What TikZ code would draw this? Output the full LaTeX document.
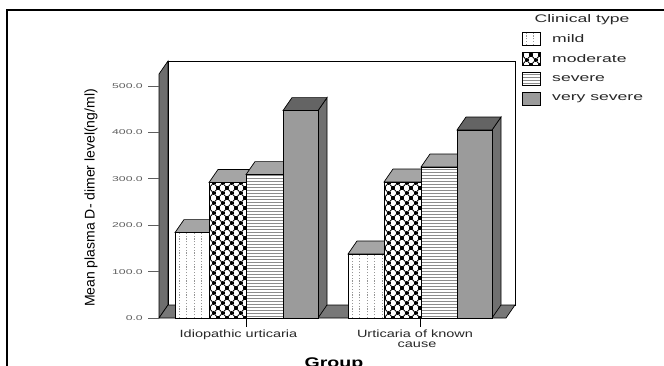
\documentclass[tikz,border=0pt]{standalone}
\usepackage{fontspec}
\setmainfont{Liberation Sans}
\definecolor{barG}{RGB}{155,155,155}
\definecolor{topL}{RGB}{165,165,165}
\definecolor{topD}{RGB}{100,100,100}
\definecolor{sideD}{RGB}{112,112,112}
\definecolor{wallD}{RGB}{110,110,110}
\definecolor{floorG}{RGB}{120,120,120}
\definecolor{dotC}{RGB}{150,150,150}
\definecolor{lineC}{RGB}{140,140,140}
\definecolor{tickT}{RGB}{95,95,95}
\definecolor{txtD}{RGB}{40,40,40}
\tikzset{
  ticklab/.style={anchor=east,inner sep=0pt,text=tickT,font=\fontsize{7}{8}\selectfont},
  leglab/.style={anchor=west,inner sep=0pt,text=txtD,font=\fontsize{11}{12}\selectfont},
  xlab/.style={anchor=base,inner sep=0pt,text=txtD,font=\fontsize{10.5}{12}\selectfont},
  edge/.style={line width=0.7pt,draw=black}
}
% mild: dotted columns
\newcommand\pMild[4]{%
  \fill[white] (#1,#2) rectangle (#3,#4);
  \begin{scope}
    \clip (#1,#2) rectangle (#3,#4);
    \foreach \k in {0,...,6}{\draw[dotC,line width=0.8pt,dash pattern=on 1.2pt off 1.6pt] ({#1+4+7.5*\k},#4) -- ({#1+4+7.5*\k},#2);}
  \end{scope}
  \draw[edge] (#1,#2) rectangle (#3,#4);}
% moderate: diamond lattice with crosses
\newcommand\pMod[4]{%
  \fill[white] (#1,#2) rectangle (#3,#4);
  \begin{scope}
    \clip (#1,#2) rectangle (#3,#4);
    \pgfmathsetmacro\myhh{#4-#2}
    \foreach \i in {-26,...,30}{
      \draw[line width=0.8pt] ({#1+9*\i},#4) -- ++({0.9*\myhh},{-\myhh});
      \draw[line width=0.8pt] ({#1+9*\i},#4) -- ++({-0.9*\myhh},{-\myhh});}
    \pgfmathtruncatemacro\mynn{\myhh/5}
    \foreach \n in {0,...,\mynn}{
      \pgfmathsetmacro\myoff{4.5*mod(\n,2)}
      \foreach \c in {0,...,5}{
        \draw[line width=1.1pt] ({#1+\myoff+9*\c-2},{#4-5*\n}) -- ++(4,0)
          ({#1+\myoff+9*\c},{#4-5*\n-2.2}) -- ++(0,4.4);}}
  \end{scope}
  \draw[edge] (#1,#2) rectangle (#3,#4);}
% severe: horizontal lines
\newcommand\pSev[4]{%
  \fill[white] (#1,#2) rectangle (#3,#4);
  \begin{scope}
    \clip (#1,#2) rectangle (#3,#4);
    \foreach \k in {0,...,75}{\draw[lineC,line width=0.9pt] (#1,{#4-1.5-3*\k}) -- (#3,{#4-1.5-3*\k});}
  \end{scope}
  \draw[edge] (#1,#2) rectangle (#3,#4);}
% very severe: plain grey
\newcommand\pVS[4]{\filldraw[fill=barG,edge] (#1,#2) rectangle (#3,#4);}
% side and top faces
\newcommand\bSides[4]{%
  \filldraw[fill=sideD,edge] (#3,#2) -- ({#3+9},{#2-13}) -- ({#3+9},305) -- (#3,318) -- cycle;
  \filldraw[fill=#4,edge] (#1,#2) -- ({#1+9},{#2-13}) -- ({#3+9},{#2-13}) -- (#3,#2) -- cycle;}
\begin{document}
\begin{tikzpicture}[x=1pt,y=-1pt]
\useasboundingbox (0,0) rectangle (664,365);
\clip (0,0) rectangle (664,365);
\fill[white] (0,0) rectangle (664,365);
% frame
\draw[line width=2pt] (7,370) -- (7,10) -- (670,10);
% walls and floor
\filldraw[fill=wallD,edge] (159,318) -- (159,74) -- (168,61) -- (168,305) -- cycle;
\filldraw[fill=white,edge] (168,61) rectangle (515,305);
\filldraw[fill=floorG,edge] (159,318) -- (506,318) -- (515,305) -- (168,305) -- cycle;
% y ticks and labels
\foreach \v/\t in {0/0.0,100/100.0,200/200.0,300/300.0,400/400.0,500/500.0}{
  \pgfmathsetmacro\yy{318-0.464*\v}
  \draw[tickT,line width=0.8pt] (148,\yy) -- (159,\yy);
  \node[ticklab] (tick\v) at (143,\yy) {\scalebox{1.75}[1]{\t}};
}
% group 1
\bSides{175}{232.6}{209}{topL}\pMild{175}{232.6}{209}{318}
\bSides{209}{182.5}{246}{topL}\pMod{209}{182.5}{246}{318}
\bSides{246}{174.6}{283}{topL}\pSev{246}{174.6}{283}{318}
\bSides{283}{110.6}{318}{topD}\pVS{283}{110.6}{318}{318}
% group 2
\bSides{348}{254}{384}{topL}\pMild{348}{254}{384}{318}
\bSides{384}{182}{421}{topL}\pMod{384}{182}{421}{318}
\bSides{421}{167}{457}{topL}\pSev{421}{167}{457}{318}
\bSides{457}{130}{492}{topD}\pVS{457}{130}{492}{318}
% x ticks and labels
\draw[line width=0.8pt] (246.5,318) -- (246.5,327);
\draw[line width=0.8pt] (420,318) -- (420,327);
\node[xlab] (g1) at (238.5,337) {\scalebox{1.38}[1]{Idiopathic urticaria}};
\node[xlab] (g2a) at (415,337) {\scalebox{1.38}[1]{Urticaria of known}};
\node[xlab] (g2b) at (417,347.5) {\scalebox{1.38}[1]{cause}};
\node[anchor=base,inner sep=0pt,font=\fontsize{14}{16}\selectfont\bfseries] (xtitle) at (334,367) {\scalebox{1.4}[1]{Group}};
% y title
\node[rotate=90,inner sep=0pt,font=\fontsize{14}{16}\selectfont] (ytitle) at (91,198) {Mean plasma D- dimer level(ng/ml)};
% legend
\node[inner sep=0pt,text=txtD,font=\fontsize{11}{12}\selectfont] (legtitle) at (582,20) {\scalebox{1.6}[1]{Clinical type}};
\pMild{522}{32}{540}{45}
\pMod{522}{52}{540}{65}
\pSev{522}{72}{540}{85}
\pVS{522}{92}{540}{105}
\node[leglab] (l1) at (552,38.5) {\scalebox{1.6}[1]{mild}};
\node[leglab] (l2) at (552,58.5) {\scalebox{1.6}[1]{moderate}};
\node[leglab] (l3) at (552,78.5) {\scalebox{1.6}[1]{severe}};
\node[leglab] (l4) at (552,98.5) {\scalebox{1.6}[1]{very severe}};
\end{tikzpicture}
\end{document}
